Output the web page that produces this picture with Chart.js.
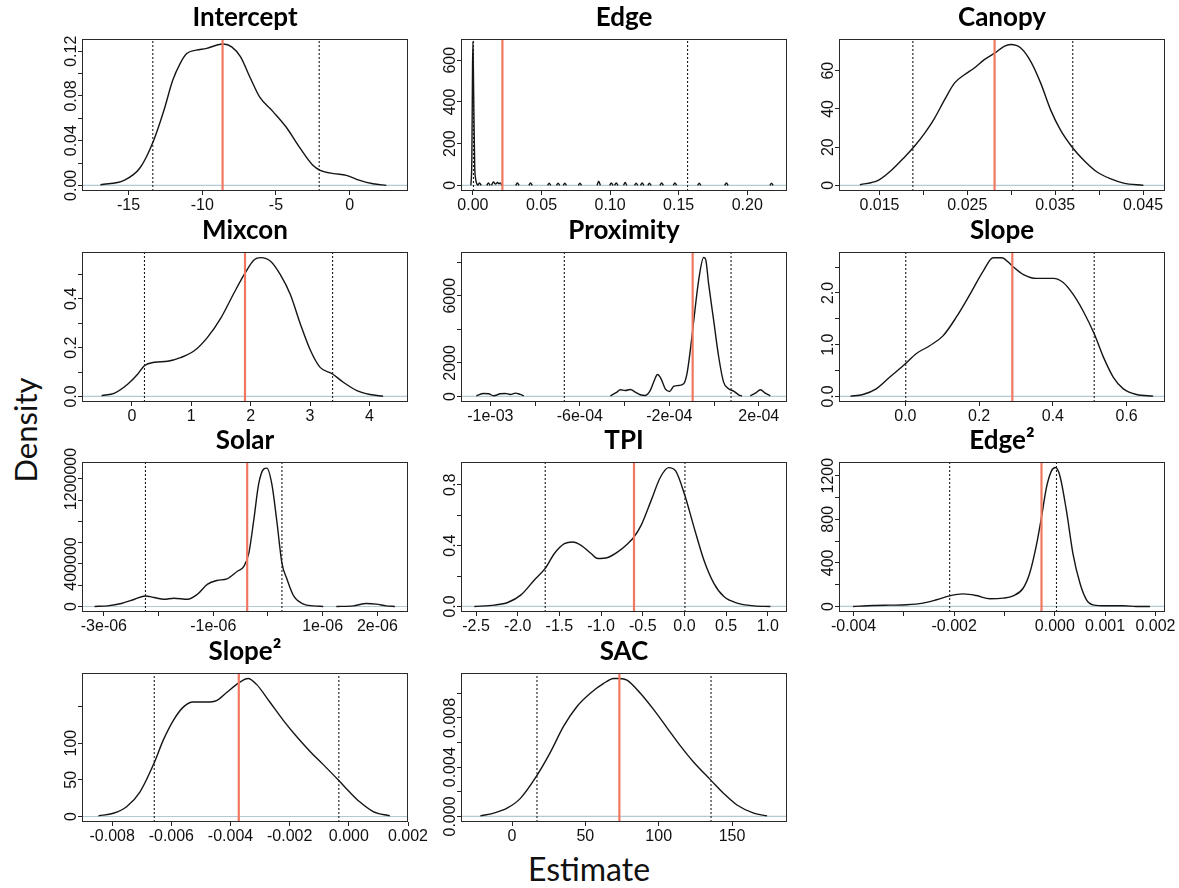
<!DOCTYPE html>
<html>
<head>
<meta charset="utf-8">
<script src="https://cdn.jsdelivr.net/npm/chart.js@4.4.1/dist/chart.umd.min.js"></script>
<style>
html,body{margin:0;padding:0;background:#fff;}
#wrap{position:relative;width:1179px;height:888px;overflow:hidden;background:#fff;}
#wrap canvas{position:absolute;}
#ylab{position:absolute;left:25px;top:430px;transform:translate(-50%,-50%) rotate(-90deg);font:31px Lato,"Open Sans",sans-serif;color:#111;white-space:nowrap;}
#xlab{position:absolute;left:589px;top:868px;transform:translate(-50%,-50%);font:32px Lato,"Open Sans",sans-serif;color:#111;white-space:nowrap;}
</style>
</head>
<body>
<div id="wrap">
<div id="ylab">Density</div>
<div id="xlab">Estimate</div>
</div>
<script>
// ---------- DATA ----------
const panelTitles = ['Intercept','Edge','Canopy','Mixcon','Proximity','Slope','Solar','TPI','Edge\u00B2','Slope\u00B2','SAC'];

// posterior mean (red line), 95% interval bounds (dotted lines)
const meanValues = [-8.62, 0.0215, 0.0281, 1.905, -0.957e-4, 0.29, -0.38e-6, -0.605, -0.265e-3, -3.72e-3, 73.2];
const ciLower    = [-13.35, 0.0004, 0.0188, 0.212, -6.692e-4, 0.001, -2.24e-6, -1.67, -2.09e-3, -6.578e-3, 17.0];
const ciUpper    = [-2.07, 0.1565, 0.0370, 3.38, 0.759e-4, 0.512, 0.255e-6, 0.006, 0.033e-3, -0.338e-3, 135.7];

// axis ranges
const xMinVals = [-18.15, -0.0087, 0.01039, -0.84, -11.31e-4, -0.18, -3.40e-6, -2.68, -4.29e-3, -9.02e-3, -34.8];
const xMaxVals = [3.95, 0.229, 0.0475, 4.65, 3.26e-4, 0.704, 2.56e-6, 1.23, 2.19e-3, 2.0e-3, 187.5];
const yMinVals = [-0.00504, -27, -2.95, -0.0228, -331, -0.107, -52000, -0.0365, -51, -7.5, -0.00045];
const yMaxVals = [0.131, 702, 76.6, 0.592, 8607, 2.79, 1360000, 0.95, 1326, 195.5, 0.01165];

// tick positions and labels ('' = tick without label)
const xTickVals = [
  [-15,-10,-5,0],
  [0,0.05,0.10,0.15,0.20],
  [0.015,0.020,0.025,0.030,0.035,0.040,0.045],
  [0,1,2,3,4],
  [-10e-4,-8e-4,-6e-4,-4e-4,-2e-4,0,2e-4],
  [0,0.2,0.4,0.6],
  [-3e-6,-2e-6,-1e-6,0,1e-6,2e-6],
  [-2.5,-2.0,-1.5,-1.0,-0.5,0,0.5,1.0],
  [-0.004,-0.003,-0.002,-0.001,0,0.001,0.002],
  [-0.008,-0.006,-0.004,-0.002,0,0.002],
  [0,50,100,150]
];
const xTickLabels = [
  ['-15','-10','-5','0'],
  ['0.00','0.05','0.10','0.15','0.20'],
  ['0.015','','0.025','','0.035','','0.045'],
  ['0','1','2','3','4'],
  ['-1e-03','','-6e-04','','-2e-04','','2e-04'],
  ['0.0','0.2','0.4','0.6'],
  ['-3e-06','','-1e-06','','1e-06','2e-06'],
  ['-2.5','-2.0','-1.5','-1.0','-0.5','0.0','0.5','1.0'],
  ['-0.004','','-0.002','','0.000','0.001','0.002'],
  ['-0.008','-0.006','-0.004','-0.002','0.000','0.002'],
  ['0','50','100','150']
];
const yTickVals = [
  [0,0.02,0.04,0.06,0.08,0.10,0.12],
  [0,200,400,600],
  [0,20,40,60],
  [0,0.1,0.2,0.3,0.4,0.5],
  [0,2000,4000,6000,8000],
  [0,0.5,1.0,1.5,2.0,2.5],
  [0,200000,400000,600000,800000,1000000,1200000],
  [0,0.2,0.4,0.6,0.8],
  [0,200,400,600,800,1000,1200],
  [0,50,100,150],
  [0,0.002,0.004,0.006,0.008,0.010]
];
const yTickLabels = [
  ['0.00','','0.04','','0.08','','0.12'],
  ['0','200','400','600'],
  ['0','20','40','60'],
  ['0.0','','0.2','','0.4',''],
  ['0','2000','','6000',''],
  ['0.0','','1.0','','2.0',''],
  ['0','','400000','','','','1200000'],
  ['0.0','','0.4','','0.8'],
  ['0','','400','','800','','1200'],
  ['0','50','100',''],
  ['0.000','','0.004','','0.008','']
];

// density curves (null = break in the curve)
const interceptEst  = [-16.9,-15.3,-14.2,-13.3,-12.6,-12.0,-11.5,-11.05,-10.4,-9.7,-9.0,-8.57,-8.0,-7.4,-6.77,-6.1,-5.2,-4.3,-3.4,-2.5,-2.0,-1.1,-0.23,0.68,1.58,2.48];
const interceptDens = [0.0006,0.0045,0.016,0.040,0.067,0.094,0.109,0.118,0.121,0.1226,0.1256,0.1265,0.124,0.115,0.097,0.079,0.066,0.052,0.034,0.018,0.0135,0.0105,0.009,0.0045,0.0015,0.0];

const edgeEst  = [-0.0015,-0.0008,-0.0003,0.0000,0.0003,0.0008,0.0013,0.0020,0.0028,0.0036, 0.0040,
  0.0036,0.0048,0.0060,0.0060, 0.0101,0.0113,0.0125,0.0125,
  0.0135,0.0150,0.0165,0.0180,0.0190,0.0198,0.0212,0.0212,
  0.0312,0.0324,0.0336,0.0336, 0.0408,0.0420,0.0432,0.0432, 0.0544,0.0556,0.0568,0.0568,
  0.0609,0.0621,0.0633,0.0633, 0.0658,0.0670,0.0682,0.0682, 0.0768,0.0780,0.0792,0.0792,
  0.0905,0.0917,0.0929,0.0929, 0.0997,0.1009,0.1021,0.1021, 0.1033,0.1045,0.1057,0.1057,
  0.1098,0.1110,0.1122,0.1122, 0.1178,0.1190,0.1202,0.1202, 0.1222,0.1234,0.1246,0.1246,
  0.1275,0.1287,0.1299,0.1299, 0.1364,0.1376,0.1388,0.1388, 0.1461,0.1473,0.1485,0.1485,
  0.1638,0.1650,0.1662,0.1662, 0.1836,0.1848,0.1860,0.1860, 0.2165,0.2177,0.2189];
const edgeDens = [0,120,560,690,560,300,90,30,8,0, null,
  0,12,0,null, 0,12,0,null,
  0,16,6,14,8,12,0,null,
  0,12,0,null, 0,12,0,null, 0,10,0,null,
  0,10,0,null, 0,10,0,null, 0,10,0,null,
  0,20,0,null, 0,12,0,null, 0,12,0,null,
  0,14,0,null, 0,10,0,null, 0,12,0,null,
  0,10,0,null, 0,12,0,null, 0,12,0,null,
  0,10,0,null, 0,12,0,null, 0,10,0];

const canopyEst  = [0.01277,0.01485,0.01636,0.01787,0.01893,0.02013,0.02126,0.0224,0.02353,0.02466,0.02579,0.02693,0.02814,0.02919,0.02995,0.03108,0.03221,0.03335,0.03448,0.03561,0.03705,0.03825,0.03977,0.04127,0.04278,0.04505];
const canopyDens = [0.35,2.6,7.9,14.9,20.2,27.2,35.1,44.7,53.5,57.9,61.4,65.8,69.3,72.8,73.7,71.9,64.9,53.5,39.5,28.9,19.3,13.2,7.0,3.5,1.2,0];

const mixconEst  = [-0.51,-0.29,-0.067,0.10,0.21,0.38,0.60,0.83,1.05,1.27,1.50,1.72,1.905,2.06,2.17,2.34,2.50,2.67,2.84,3.01,3.17,3.38,3.56,3.79,4.01,4.23];
const mixconDens = [0.003,0.014,0.051,0.092,0.126,0.140,0.144,0.160,0.187,0.241,0.322,0.424,0.505,0.560,0.569,0.553,0.499,0.417,0.295,0.187,0.119,0.092,0.058,0.024,0.008,0.001];

const proximityEst  = [-10.623e-4,-10.300e-4,-10.074e-4,-9.849e-4,-9.554e-4,-9.329e-4,-9.104e-4,-8.878e-4,-8.662e-4,-8.505e-4, -6e-4,
  -4.633e-4,-4.339e-4,-4.192e-4,-3.966e-4,-3.741e-4,-3.515e-4,-3.300e-4,-3.074e-4,-2.849e-4,-2.702e-4,-2.525e-4,-2.368e-4,-2.182e-4,-1.986e-4,-1.810e-4,-1.584e-4,-1.359e-4,-1.212e-4,-1.064e-4,-0.908e-4,-0.692e-4,-0.466e-4,-0.378e-4,-0.241e-4,-0.016e-4,0.210e-4,0.426e-4,0.651e-4,0.877e-4,1.102e-4,1.249e-4, 1.45e-4,
  1.622e-4,1.847e-4,2.073e-4,2.288e-4,2.514e-4];
const proximityDens = [40,178,158,40,158,178,119,198,119,40, null,
  40,257,396,356,416,257,99,59,356,851,1307,1049,455,297,594,653,752,1346,2732,4514,6890,8276,8177,6692,4514,2336,851,455,317,99,20, null,
  40,198,396,198,40];

const slopeEst  = [-0.149,-0.115,-0.079,-0.043,0.0,0.030,0.066,0.102,0.138,0.175,0.211,0.238,0.261,0.29,0.319,0.356,0.401,0.428,0.455,0.482,0.512,0.537,0.564,0.591,0.627,0.672];
const slopeDens = [0.006,0.038,0.147,0.37,0.63,0.83,0.98,1.17,1.53,1.97,2.42,2.68,2.68,2.52,2.36,2.28,2.28,2.20,1.97,1.65,1.21,0.76,0.37,0.147,0.038,0.006];

const solarEst  = [-3.17e-6,-2.93e-6,-2.68e-6,-2.44e-6,-2.24e-6,-2.08e-6,-1.90e-6,-1.72e-6,-1.47e-6,-1.29e-6,-1.11e-6,-0.93e-6,-0.75e-6,-0.56e-6,-0.44e-6,-0.35e-6,-0.26e-6,-0.17e-6,-0.08e-6,-0.02e-6,0.07e-6,0.16e-6,0.255e-6,0.35e-6,0.47e-6,0.65e-6,0.83e-6,1.01e-6, 1.1e-6,
  1.25e-6,1.56e-6,1.80e-6,1.98e-6,2.16e-6,2.32e-6];
const solarDens = [0,6000,28000,68000,99000,84000,68000,78000,68000,115000,208000,245000,260000,332000,378000,502000,812000,1153000,1293000,1302000,1153000,812000,409000,254000,99000,22000,6000,0, null,
  0,6000,28000,22000,6000,0];

const tpiEst  = [-2.52,-2.28,-2.12,-1.96,-1.80,-1.67,-1.56,-1.44,-1.34,-1.24,-1.12,-1.04,-0.92,-0.80,-0.68,-0.605,-0.52,-0.40,-0.29,-0.19,-0.106,0.006,0.114,0.234,0.353,0.473,0.632,0.832,1.03];
const tpiDens = [0,0.009,0.026,0.076,0.174,0.25,0.348,0.413,0.424,0.402,0.348,0.315,0.322,0.359,0.413,0.457,0.533,0.696,0.848,0.913,0.891,0.728,0.522,0.304,0.152,0.065,0.022,0.004,0];

const edge2Est  = [-4.01e-3,-3.61e-3,-3.28e-3,-2.95e-3,-2.62e-3,-2.35e-3,-2.09e-3,-1.82e-3,-1.56e-3,-1.29e-3,-1.03e-3,-0.83e-3,-0.63e-3,-0.50e-3,-0.36e-3,-0.265e-3,-0.166e-3,-0.066e-3,0.013e-3,0.10e-3,0.23e-3,0.36e-3,0.50e-3,0.63e-3,0.76e-3,1.03e-3,1.36e-3,1.62e-3,1.89e-3];
const edge2Dens = [0,9,12,15,30,61,97,115,100,70,76,97,167,304,577,820,1093,1245,1275,1200,881,486,213,61,15,6,6,0,0];

const slope2Est  = [-8.465e-3,-7.960e-3,-7.512e-3,-7.064e-3,-6.578e-3,-6.273e-3,-5.930e-3,-5.597e-3,-5.263e-3,-4.806e-3,-4.473e-3,-4.130e-3,-3.720e-3,-3.406e-3,-3.120e-3,-2.672e-3,-2.215e-3,-1.767e-3,-1.319e-3,-0.872e-3,-0.338e-3,0.034e-3,0.367e-3,0.824e-3,1.386e-3];
const slope2Dens = [0.9,4.4,13.3,33.3,73.3,104,131,149,156,156,158,169,182,188,180,156,131,109,89,71,49,33,20,6.7,0.9];

const sacEst  = [-21.6,-12.5,-3.4,5.7,17.0,26.1,35.2,44.3,53.4,62.5,69.3,73.2,78.4,87.5,96.6,105.7,114.8,123.9,135.7,144.3,153.4,164.8,173.9];
const sacDens = [0.00005,0.00027,0.00067,0.00147,0.00333,0.0052,0.00733,0.00893,0.0100,0.0108,0.0112,0.0112,0.01107,0.0100,0.00867,0.0072,0.00573,0.0044,0.00293,0.00187,0.00093,0.00027,0.00005];

const curveEst  = [interceptEst, edgeEst, canopyEst, mixconEst, proximityEst, slopeEst, solarEst, tpiEst, edge2Est, slope2Est, sacEst];
const curveDens = [interceptDens, edgeDens, canopyDens, mixconDens, proximityDens, slopeDens, solarDens, tpiDens, edge2Dens, slope2Dens, sacDens];

// ---------- LAYOUT ----------
const colLeft = [82, 461, 839];
const rowTop  = [39, 252, 462, 673];
const rowH    = [152, 150, 150, 149];
const BOX_W = 326, LEFT_W = 50, RIGHT_W = 25, TOP_H = 40, BOTTOM_H = 32;

// tick font: narrow sans if installed, else regular at a smaller size
const mctx = document.createElement('canvas').getContext('2d');
mctx.font = '15px "Liberation Sans Narrow"';
const wNarrow = mctx.measureText('0000000').width;
mctx.font = '15px "Liberation Sans"';
const wReg = mctx.measureText('0000000').width;
const HAS_NARROW = wNarrow < wReg * 0.9;
const FONT_TICK = HAS_NARROW ? '"Liberation Sans Narrow", "Liberation Sans", Arial, sans-serif' : '"Liberation Sans", Arial, sans-serif';
const TICK_SIZE = HAS_NARROW ? 16 : 14;

const boxPlugin = {
  id: 'boxFrame',
  afterDatasetsDraw(chart) {
    const a = chart.chartArea, ctx = chart.ctx;
    ctx.save();
    ctx.strokeStyle = '#2a2a2a';
    ctx.lineWidth = 1;
    ctx.strokeRect(Math.round(a.left) + 0.5, Math.round(a.top) + 0.5, Math.round(a.right - a.left) - 1, Math.round(a.bottom - a.top) - 1);
    ctx.restore();
  }
};
const yLabelPlugin = {
  id: 'yRotLabels',
  afterDraw(chart, args, opts) {
    const ys = chart.scales.y, ctx = chart.ctx;
    ctx.save();
    ctx.font = TICK_SIZE + 'px ' + FONT_TICK;
    ctx.fillStyle = '#111';
    ctx.textAlign = 'center';
    ctx.textBaseline = 'alphabetic';
    opts.values.forEach((v, i) => {
      const lab = opts.labels[i];
      if (!lab) return;
      const py = ys.getPixelForValue(v);
      ctx.save();
      ctx.translate(chart.chartArea.left - 6, py);
      ctx.rotate(-Math.PI / 2);
      ctx.fillText(lab, 0, 0);
      ctx.restore();
    });
    ctx.restore();
  }
};

const wrap = document.getElementById('wrap');

panelTitles.forEach((title, i) => {
  const r = Math.floor(i / 3), c = i % 3;
  const boxH = rowH[r];
  const cv = document.createElement('canvas');
  const W = LEFT_W + BOX_W + RIGHT_W, H = TOP_H + boxH + BOTTOM_H;
  cv.width = W; cv.height = H;
  cv.style.width = W + 'px'; cv.style.height = H + 'px';
  cv.style.left = (colLeft[c] - LEFT_W) + 'px';
  cv.style.top = (rowTop[r] - TOP_H) + 'px';
  wrap.appendChild(cv);

  const curve = curveEst[i].map((x, k) => ({x: x, y: curveDens[i][k]}));
  const yLo = yMinVals[i], yHi = yMaxVals[i];
  const xLo = xMinVals[i], xHi = xMaxVals[i];

  const xt = xTickVals[i], xl = xTickLabels[i], yt = yTickVals[i];

  new Chart(cv, {
    type: 'scatter',
    data: {
      datasets: [
        { data: [{x: meanValues[i], y: yLo}, {x: meanValues[i], y: yHi}], showLine: true, borderColor: '#f2775f', borderWidth: 2.2, pointRadius: 0 },
        { data: [{x: ciLower[i], y: yLo}, {x: ciLower[i], y: yHi}], showLine: true, borderColor: '#1a1a1a', borderWidth: 1.1, borderDash: [2, 2], pointRadius: 0 },
        { data: [{x: ciUpper[i], y: yLo}, {x: ciUpper[i], y: yHi}], showLine: true, borderColor: '#1a1a1a', borderWidth: 1.1, borderDash: [2, 2], pointRadius: 0 },
        { data: curve, showLine: true, borderColor: '#151515', borderWidth: 1.4, pointRadius: 0, spanGaps: false, cubicInterpolationMode: 'monotone' },
        { data: [{x: xLo, y: 0}, {x: xHi, y: 0}], showLine: true, borderColor: '#b3cad4', borderWidth: 1.2, pointRadius: 0 }
      ]
    },
    options: {
      responsive: false,
      animation: false,
      devicePixelRatio: 1,
      events: [],
      layout: { padding: { left: 0, right: RIGHT_W, top: 3, bottom: 0 } },
      plugins: {
        legend: { display: false },
        tooltip: { enabled: false },
        title: {
          display: true, text: title, fullSize: false,
          color: '#000',
          font: { family: 'Lato, "Open Sans", sans-serif', size: 26, weight: 'bold', lineHeight: 1.2 },
          padding: { top: 0, bottom: 5.8 }
        },
        yRotLabels: { values: yTickVals[i], labels: yTickLabels[i] }
      },
      scales: {
        x: {
          type: 'linear', min: xLo, max: xHi,
          afterBuildTicks: s => { s.ticks = xt.map(v => ({value: v})); },
          afterFit: s => { s.height = BOTTOM_H; },
          grid: { display: true, drawOnChartArea: false, drawTicks: true, tickLength: 4, color: '#222', tickColor: '#222', tickWidth: 1 },
          border: { display: false },
          ticks: {
            autoSkip: false, maxRotation: 0, minRotation: 0, padding: 1,
            color: '#111', font: { family: FONT_TICK, size: TICK_SIZE },
            callback: (v, k) => xl[k]
          }
        },
        y: {
          type: 'linear', min: yLo, max: yHi,
          afterBuildTicks: s => { s.ticks = yt.map(v => ({value: v})); },
          afterFit: s => { s.width = LEFT_W; },
          grid: { display: true, drawOnChartArea: false, drawTicks: true, tickLength: 4, color: '#222', tickColor: '#222', tickWidth: 1 },
          border: { display: false },
          ticks: { callback: () => '', padding: 0 }
        }
      }
    },
    plugins: [boxPlugin, yLabelPlugin]
  });
});
</script>
</body>
</html>
